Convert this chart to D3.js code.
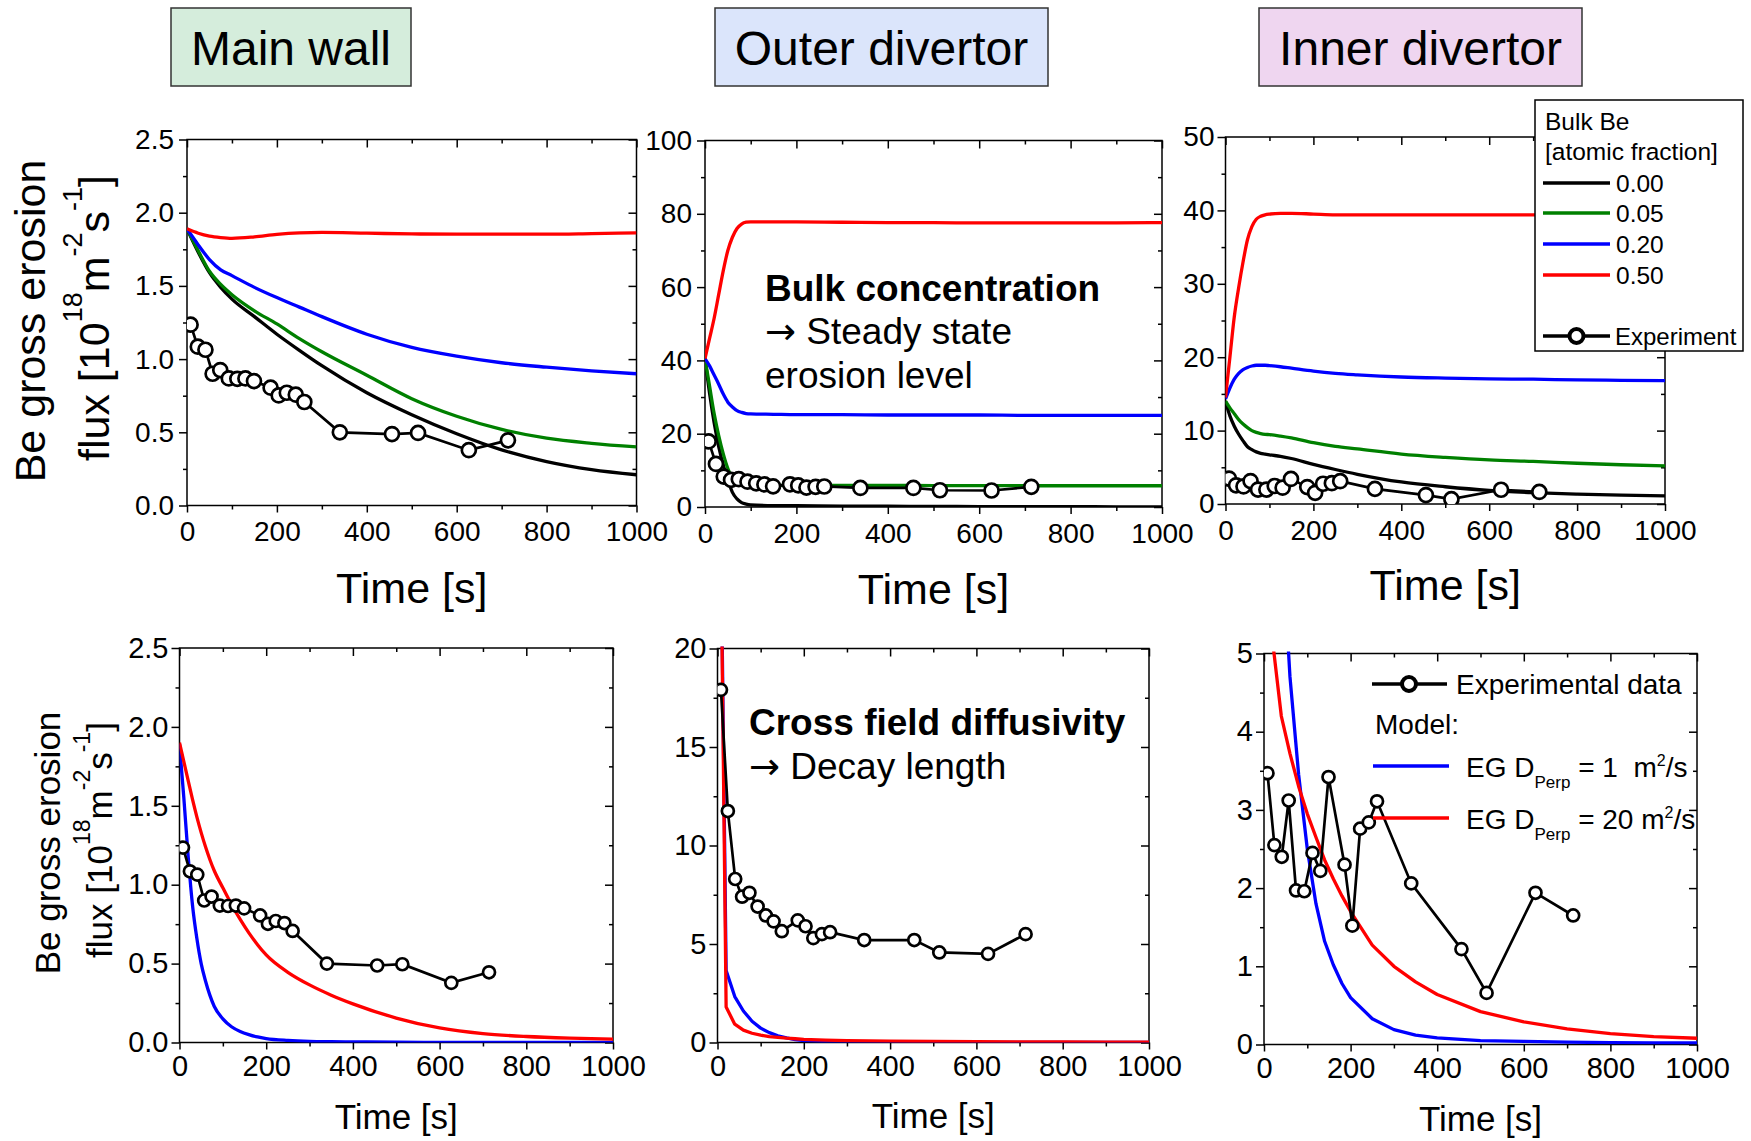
<!DOCTYPE html>
<html>
<head>
<meta charset="utf-8">
<script src="https://cdn.jsdelivr.net/npm/d3@7"></script>
<style>
  body { margin: 0; background: #fff; overflow: hidden; }
  text { font-family: "Liberation Sans", Arial, sans-serif; fill: #000; }
</style>
</head>
<body>
<script>
// ---- experimental data (same shots in every panel) ----
var expTime = [8, 24, 41, 57, 74, 93, 112, 130, 149, 186, 204, 222, 242, 261, 340, 456, 514, 627, 714];
var expMainWall = [1.235, 1.085, 1.064, 0.90, 0.925, 0.868, 0.865, 0.868, 0.85, 0.805, 0.752, 0.77, 0.757, 0.707, 0.50, 0.488, 0.496, 0.378, 0.445];
var expOuter = [17.9, 11.75, 8.3, 7.4, 7.6, 6.9, 6.45, 6.15, 5.65, 6.2, 5.9, 5.3, 5.5, 5.6, 5.2, 5.2, 4.57, 4.5, 5.5];
var expInner = [3.47, 2.55, 2.40, 3.12, 1.97, 1.96, 2.45, 2.22, 3.42, 2.30, 1.52, 2.76, 2.84, 3.11, 2.06, 1.22, 0.66, 1.94, 1.65];

// ---- top row: bulk Be scan ----
var bulkLabels = ["0.00", "0.05", "0.20", "0.50"];
var bulkColors = ["#000000", "#008000", "#0000ff", "#ff0000"];

var mwTime = [0, 25, 50, 75, 100, 150, 200, 250, 300, 400, 500, 600, 700, 800, 900, 1000];
var mwBulk000 = [1.89, 1.73, 1.59, 1.49, 1.41, 1.29, 1.17, 1.06, 0.955, 0.77, 0.62, 0.49, 0.38, 0.30, 0.245, 0.21];
var mwBulk005 = [1.89, 1.74, 1.60, 1.51, 1.44, 1.33, 1.24, 1.14, 1.05, 0.89, 0.73, 0.61, 0.52, 0.46, 0.425, 0.40];
var mwBulk020 = [1.89, 1.78, 1.68, 1.61, 1.57, 1.49, 1.42, 1.355, 1.29, 1.17, 1.08, 1.02, 0.975, 0.945, 0.92, 0.90];
var mwBulk050 = [1.89, 1.86, 1.84, 1.83, 1.825, 1.835, 1.852, 1.862, 1.865, 1.86, 1.855, 1.853, 1.853, 1.853, 1.857, 1.862];

var odTime = [0, 10, 20, 30, 40, 50, 60, 70, 80, 90, 100, 150, 200, 300, 400, 500, 600, 700, 800, 900, 1000];
var odBulk000 = [40.5, 31, 23, 16.5, 11.5, 7.5, 4.0, 2.2, 1.2, 0.8, 0.6, 0.4, 0.35, 0.25, 0.2, 0.15, 0.12, 0.1, 0.08, 0.06, 0.05];
var odBulk005 = [40.5, 33, 25.5, 19.5, 14.5, 10.5, 7.8, 6.4, 6.0, 5.9, 5.9, 5.9, 5.9, 5.9, 5.9, 5.85, 5.85, 5.8, 5.8, 5.8, 5.8];
var odBulk020 = [40.5, 38.5, 36, 33.5, 30.8, 28.6, 27.3, 26.3, 25.8, 25.5, 25.4, 25.3, 25.2, 25.2, 25.1, 25.1, 25.1, 25.0, 25.0, 25.0, 25.0];
var odBulk050 = [40.5, 46, 51.5, 58, 64.5, 70, 73.6, 76, 77.2, 77.7, 77.8, 77.8, 77.8, 77.7, 77.6, 77.6, 77.5, 77.5, 77.5, 77.5, 77.6];

var idTime = [0, 10, 20, 30, 40, 50, 60, 70, 80, 90, 100, 125, 150, 200, 250, 300, 400, 500, 600, 700, 800, 900, 1000];
var idBulk000 = [14, 12, 10.6, 9.5, 8.6, 7.8, 7.4, 7.1, 6.9, 6.8, 6.7, 6.5, 6.2, 5.4, 4.7, 4.05, 3.0, 2.35, 1.85, 1.55, 1.35, 1.2, 1.1];
var idBulk005 = [14, 13.1, 12.3, 11.5, 10.9, 10.4, 10.0, 9.75, 9.6, 9.5, 9.45, 9.25, 9.0, 8.35, 7.85, 7.5, 6.8, 6.35, 6.0, 5.8, 5.55, 5.35, 5.2];
var idBulk020 = [14.3, 15.8, 17.0, 17.8, 18.3, 18.6, 18.8, 18.9, 18.9, 18.9, 18.85, 18.7, 18.5, 18.1, 17.8, 17.6, 17.3, 17.15, 17.05, 17.0, 16.9, 16.85, 16.8];
var idBulk050 = [14.5, 20, 25.5, 29.5, 33, 36, 37.8, 38.8, 39.2, 39.4, 39.5, 39.6, 39.6, 39.5, 39.4, 39.4, 39.4, 39.4, 39.4, 39.4, 39.4, 39.4, 39.4];

// ---- bottom row: cross field diffusivity scan ----
var mwDTime = [0, 10, 20, 30, 40, 50, 60, 70, 80, 100, 120, 140, 160, 180, 200, 250, 300, 350, 400, 500, 600, 700, 800, 900, 1000];
var mwD1 = [1.89, 1.55, 1.18, 0.87, 0.66, 0.5, 0.39, 0.3, 0.23, 0.15, 0.1, 0.07, 0.05, 0.035, 0.025, 0.013, 0.007, 0.005, 0.004, 0.002, 0.001, 0, 0, 0, 0];
var mwD20 = [1.9, 1.78, 1.66, 1.54, 1.43, 1.33, 1.24, 1.16, 1.09, 0.98, 0.875, 0.78, 0.695, 0.62, 0.555, 0.445, 0.365, 0.3, 0.245, 0.155, 0.092, 0.056, 0.038, 0.028, 0.022];

var odDTime = [0, 20, 40, 60, 80, 100, 120, 140, 160, 180, 200, 250, 300, 400, 500, 600, 700, 800, 900, 1000];
var odD1 = [40.5, 3.65, 2.33, 1.6, 1.08, 0.73, 0.5, 0.34, 0.23, 0.15, 0.1, 0.05, 0.025, 0.01, 0.005, 0, 0, 0, 0, 0];
var odD20 = [40.5, 1.8, 0.93, 0.63, 0.47, 0.37, 0.3, 0.26, 0.22, 0.19, 0.16, 0.12, 0.1, 0.07, 0.05, 0.04, 0.03, 0.025, 0.02, 0.02];

var idDTime = [0, 20, 40, 60, 80, 100, 120, 140, 160, 180, 200, 250, 300, 350, 400, 500, 600, 700, 800, 900, 1000];
var idD1 = [14, 10, 6.6, 4.7, 3.45, 2.5, 1.8, 1.32, 1.02, 0.78, 0.6, 0.33, 0.19, 0.12, 0.085, 0.05, 0.04, 0.03, 0.025, 0.022, 0.02];
var idD20 = [14, 5.15, 4.2, 3.72, 3.3, 2.95, 2.65, 2.36, 2.12, 1.9, 1.7, 1.27, 1.0, 0.8, 0.64, 0.42, 0.29, 0.2, 0.14, 0.1, 0.08];

var titles = ["Main wall", "Outer divertor", "Inner divertor"];
var titleFills = ["#d5eddc", "#dbe5fb", "#efd6f0"];

var svg = d3.select("body").append("svg")
    .attr("width", 1751)
    .attr("height", 1141);

// title boxes
var titleBoxes = [[171, 411], [715, 1048], [1259, 1582]];
titles.forEach(function (t, i) {
    svg.append("rect")
        .attr("x", titleBoxes[i][0]).attr("y", 8)
        .attr("width", titleBoxes[i][1] - titleBoxes[i][0]).attr("height", 78)
        .attr("fill", titleFills[i])
        .attr("stroke", "#333").attr("stroke-width", 1.5);
    svg.append("text")
        .attr("x", (titleBoxes[i][0] + titleBoxes[i][1]) / 2).attr("y", 64.5)
        .attr("text-anchor", "middle")
        .style("font-size", "48px")
        .text(t);
});

function styleAxis(g, fontSize) {
    g.attr("font-size", null).attr("font-family", null);
    g.select(".domain").remove();
    g.selectAll("line").attr("stroke", "#000").attr("stroke-width", 1.5);
    g.selectAll("text").style("font-size", fontSize + "px").attr("fill", "#000");
}

var panelCount = 0;
function drawPanel(p) {
    panelCount++;
    var x = d3.scaleLinear().domain([0, 1000]).range([p.left, p.right]);
    var y = d3.scaleLinear().domain([0, p.yMax]).range([p.bottom, p.top]);
    var clipId = "clip" + panelCount;
    svg.append("clipPath").attr("id", clipId).append("rect")
        .attr("x", p.left).attr("y", p.top - 2)
        .attr("width", p.right - p.left).attr("height", p.bottom - p.top + 2);

    var g = svg.append("g");
    var xMajor = d3.range(0, 1001, 200), xMinor = d3.range(100, 1000, 200);
    var yMajor = d3.range(0, p.yMax + 1e-9, p.yStep);
    var yMinor = d3.range(p.yStep / 2, p.yMax, p.yStep);

    // bottom and left: outward ticks with labels
    g.append("g").attr("transform", "translate(0," + p.bottom + ")")
        .call(d3.axisBottom(x).tickValues(xMajor).tickSize(7).tickPadding(p.xPad).tickFormat(d3.format("d")))
        .call(styleAxis, p.tickFont);
    g.append("g").attr("transform", "translate(0," + p.bottom + ")")
        .call(d3.axisBottom(x).tickValues(xMinor).tickSize(4).tickFormat(""))
        .call(styleAxis, p.tickFont);
    g.append("g").attr("transform", "translate(" + p.left + ",0)")
        .call(d3.axisLeft(y).tickValues(yMajor).tickSize(8).tickPadding(p.yPad).tickFormat(d3.format(p.yFmt)))
        .call(styleAxis, p.tickFont);
    g.append("g").attr("transform", "translate(" + p.left + ",0)")
        .call(d3.axisLeft(y).tickValues(yMinor).tickSize(4).tickFormat(""))
        .call(styleAxis, p.tickFont);
    // top and right: inward ticks, no labels
    g.append("g").attr("transform", "translate(0," + p.top + ")")
        .call(d3.axisTop(x).tickValues(xMajor).tickSize(-8).tickFormat(""))
        .call(styleAxis, p.tickFont);
    g.append("g").attr("transform", "translate(0," + p.top + ")")
        .call(d3.axisTop(x).tickValues(xMinor).tickSize(-4).tickFormat(""))
        .call(styleAxis, p.tickFont);
    g.append("g").attr("transform", "translate(" + p.right + ",0)")
        .call(d3.axisRight(y).tickValues(yMajor).tickSize(-8).tickFormat(""))
        .call(styleAxis, p.tickFont);
    g.append("g").attr("transform", "translate(" + p.right + ",0)")
        .call(d3.axisRight(y).tickValues(yMinor).tickSize(-4).tickFormat(""))
        .call(styleAxis, p.tickFont);

    g.append("rect")
        .attr("x", p.left).attr("y", p.top)
        .attr("width", p.right - p.left).attr("height", p.bottom - p.top)
        .attr("fill", "none").attr("stroke", "#000").attr("stroke-width", 1.5);

    var line = d3.line()
        .x(function (d) { return x(d[0]); })
        .y(function (d) { return y(d[1]); })
        .curve(p.curve);

    var plot = g.append("g").attr("clip-path", "url(#" + clipId + ")");
    p.series.forEach(function (s) {
        plot.append("path")
            .datum(d3.zip(s.t, s.v))
            .attr("d", line)
            .attr("fill", "none")
            .attr("stroke", s.color)
            .attr("stroke-width", 3.3)
            .attr("stroke-linejoin", "round");
    });

    var expData = d3.zip(expTime, p.exp);
    plot.append("path")
        .datum(expData)
        .attr("d", line.curve(d3.curveLinear))
        .attr("fill", "none").attr("stroke", "#000").attr("stroke-width", 2.7);
    plot.selectAll("circle.exp").data(expData).enter().append("circle")
        .attr("cx", function (d) { return x(d[0]); })
        .attr("cy", function (d) { return y(d[1]); })
        .attr("r", p.r)
        .attr("fill", "#fff").attr("stroke", "#000").attr("stroke-width", 2.7);

    svg.append("text")
        .attr("x", (p.left + p.right) / 2).attr("y", p.xLabelY)
        .attr("text-anchor", "middle")
        .style("font-size", p.xLabelFont + "px")
        .text("Time [s]");
}

function yLabel(cy1, cy2, base1, base2, size, supSize, supShift) {
    svg.append("text")
        .attr("transform", "translate(" + base1 + "," + cy1 + ") rotate(-90)")
        .attr("text-anchor", "middle")
        .style("font-size", size + "px")
        .text("Be gross erosion");
    var t = svg.append("text")
        .attr("transform", "translate(" + base2 + "," + cy2 + ") rotate(-90)")
        .attr("text-anchor", "middle")
        .style("font-size", size + "px");
    var parts = [["flux [10", 0], ["18", 1], ["m", 0], ["-2", 1], ["s", 0], ["-1", 1], ["]", 0]];
    var up = false;
    parts.forEach(function (pt) {
        var ts = t.append("tspan").text(pt[0]);
        if (pt[1]) {
            ts.attr("dy", -supShift).style("font-size", supSize + "px");
            up = true;
        } else if (up) {
            ts.attr("dy", supShift);
            up = false;
        }
    });
}

// ---- top row ----
drawPanel({
    left: 187, right: 636.5, top: 139.5, bottom: 505.5,
    yMax: 2.5, yStep: 0.5, yFmt: ".1f", tickFont: 28, xPad: 9, yPad: 5,
    xLabelY: 603, xLabelFont: 43, r: 7, curve: d3.curveMonotoneX,
    series: [
        {t: mwTime, v: mwBulk000, color: bulkColors[0]},
        {t: mwTime, v: mwBulk005, color: bulkColors[1]},
        {t: mwTime, v: mwBulk020, color: bulkColors[2]},
        {t: mwTime, v: mwBulk050, color: bulkColors[3]}
    ],
    exp: expMainWall
});
drawPanel({
    left: 705, right: 1162, top: 140.5, bottom: 507,
    yMax: 100, yStep: 20, yFmt: "d", tickFont: 28, xPad: 9, yPad: 5,
    xLabelY: 604, xLabelFont: 43, r: 7, curve: d3.curveMonotoneX,
    series: [
        {t: odTime, v: odBulk000, color: bulkColors[0]},
        {t: odTime, v: odBulk005, color: bulkColors[1]},
        {t: odTime, v: odBulk020, color: bulkColors[2]},
        {t: odTime, v: odBulk050, color: bulkColors[3]}
    ],
    exp: expOuter
});
drawPanel({
    left: 1225.5, right: 1665, top: 137, bottom: 504,
    yMax: 50, yStep: 10, yFmt: "d", tickFont: 28, xPad: 9, yPad: 3,
    xLabelY: 600, xLabelFont: 43, r: 7, curve: d3.curveMonotoneX,
    series: [
        {t: idTime, v: idBulk000, color: bulkColors[0]},
        {t: idTime, v: idBulk005, color: bulkColors[1]},
        {t: idTime, v: idBulk020, color: bulkColors[2]},
        {t: idTime, v: idBulk050, color: bulkColors[3]}
    ],
    exp: expInner
});

// ---- bottom row ----
drawPanel({
    left: 179.5, right: 613, top: 648, bottom: 1042.5,
    yMax: 2.5, yStep: 0.5, yFmt: ".1f", tickFont: 29, xPad: 6, yPad: 3,
    xLabelY: 1129, xLabelFont: 35, r: 6, curve: d3.curveMonotoneX,
    series: [
        {t: mwDTime, v: mwD1, color: "#0000ff"},
        {t: mwDTime, v: mwD20, color: "#ff0000"}
    ],
    exp: expMainWall
});
drawPanel({
    left: 717.5, right: 1149, top: 648.5, bottom: 1042.5,
    yMax: 20, yStep: 5, yFmt: "d", tickFont: 29, xPad: 6, yPad: 3,
    xLabelY: 1128, xLabelFont: 35, r: 6, curve: d3.curveLinear,
    series: [
        {t: odDTime, v: odD1, color: "#0000ff"},
        {t: odDTime, v: odD20, color: "#ff0000"}
    ],
    exp: expOuter
});
drawPanel({
    left: 1264, right: 1697, top: 653.5, bottom: 1044.5,
    yMax: 5, yStep: 1, yFmt: "d", tickFont: 29, xPad: 6, yPad: 3,
    xLabelY: 1131, xLabelFont: 35, r: 6, curve: d3.curveLinear,
    series: [
        {t: idDTime, v: idD1, color: "#0000ff"},
        {t: idDTime, v: idD20, color: "#ff0000"}
    ],
    exp: expInner
});

// y axis titles
yLabel(321, 318, 45, 109, 43, 27, 27);
yLabel(843, 840, 60, 112, 35, 23, 22);

// annotations
function arrowLine(x, yb, rest) {
    var t = svg.append("text").attr("x", x).attr("y", yb).style("font-size", "37px");
    t.append("tspan").style("font-family", "'DejaVu Sans', sans-serif").text("\u2192");
    t.append("tspan").text(" " + rest);
}
svg.append("text").attr("x", 765).attr("y", 301)
    .style("font-size", "37px").style("font-weight", "bold").text("Bulk concentration");
arrowLine(765, 344, "Steady state");
svg.append("text").attr("x", 765).attr("y", 388)
    .style("font-size", "37px").text("erosion level");

svg.append("text").attr("x", 749).attr("y", 735)
    .style("font-size", "37px").style("font-weight", "bold").text("Cross field diffusivity");
arrowLine(749, 779, "Decay length");

// legend: bulk Be (top right, opaque)
var leg = svg.append("g");
leg.append("rect").attr("x", 1535).attr("y", 100).attr("width", 208).attr("height", 251)
    .attr("fill", "#fff").attr("stroke", "#000").attr("stroke-width", 1.5);
leg.append("text").attr("x", 1545).attr("y", 130).style("font-size", "24.5px").text("Bulk Be");
leg.append("text").attr("x", 1545).attr("y", 160).style("font-size", "24.5px").text("[atomic fraction]");
var legY = [183, 213, 244, 275];
bulkLabels.forEach(function (lab, i) {
    leg.append("line").attr("x1", 1543).attr("x2", 1610).attr("y1", legY[i]).attr("y2", legY[i])
        .attr("stroke", bulkColors[i]).attr("stroke-width", 3.3);
    leg.append("text").attr("x", 1616).attr("y", legY[i] + 9).style("font-size", "24.5px").text(lab);
});
leg.append("line").attr("x1", 1543).attr("x2", 1610).attr("y1", 336).attr("y2", 336)
    .attr("stroke", "#000").attr("stroke-width", 3.5);
leg.append("circle").attr("cx", 1576.5).attr("cy", 336).attr("r", 7)
    .attr("fill", "#fff").attr("stroke", "#000").attr("stroke-width", 4);
leg.append("text").attr("x", 1615).attr("y", 345).style("font-size", "24px").text("Experiment");

// legend: cross field diffusivity (bottom right, transparent)
var leg2 = svg.append("g");
leg2.append("line").attr("x1", 1372).attr("x2", 1447).attr("y1", 684).attr("y2", 684)
    .attr("stroke", "#000").attr("stroke-width", 3.5);
leg2.append("circle").attr("cx", 1409).attr("cy", 684).attr("r", 7)
    .attr("fill", "#fff").attr("stroke", "#000").attr("stroke-width", 4);
leg2.append("text").attr("x", 1456).attr("y", 693.5).style("font-size", "28px").text("Experimental data");
leg2.append("text").attr("x", 1375).attr("y", 734).style("font-size", "28px").text("Model:");

var dLabels = [["1", "  "], ["20", " "]];
var dColors = ["#0000ff", "#ff0000"];
var dY = [766, 818];
dLabels.forEach(function (lab, i) {
    leg2.append("line").attr("x1", 1373).attr("x2", 1449).attr("y1", dY[i]).attr("y2", dY[i])
        .attr("stroke", dColors[i]).attr("stroke-width", 3.3);
    var t = leg2.append("text").attr("x", 1466).attr("y", dY[i] + 10.5)
        .style("font-size", "28px").style("white-space", "pre");
    t.append("tspan").text("EG D");
    t.append("tspan").attr("dy", 11).style("font-size", "17px").text("Perp");
    t.append("tspan").attr("dy", -11).text(" = " + lab[0] + lab[1] + "m");
    t.append("tspan").attr("dy", -11).style("font-size", "16px").text("2");
    t.append("tspan").attr("dy", 11).text("/s");
});
</script>
</body>
</html>
